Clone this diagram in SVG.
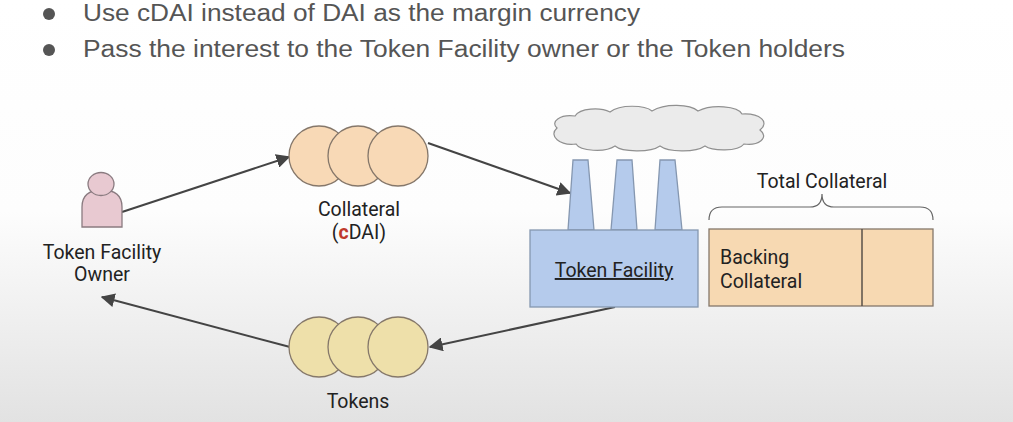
<svg xmlns="http://www.w3.org/2000/svg" width="1013" height="422" viewBox="0 0 1013 422">
<style>
text{font-family:Roboto,"Liberation Sans",Arial,sans-serif;fill:#222}
.bul{font-family:"Liberation Sans",Arial,sans-serif;font-size:23px;fill:#555}
.lbl{font-size:19.5px;text-anchor:middle}
.coin{fill:#f8d9b6;stroke:#85776a;stroke-width:1.3}
.tok{fill:#eee0aa;stroke:#85786a;stroke-width:1.3}
.fac{fill:#b5cbec;stroke:#8597b0;stroke-width:1.3}
.edge{stroke:#444;stroke-width:2;fill:none}
</style>
<defs>
<linearGradient id="bg" x1="0" y1="0" x2="0" y2="1">
<stop offset="0" stop-color="#ffffff"/>
<stop offset="0.5" stop-color="#fdfdfd"/>
<stop offset="1" stop-color="#e2e2e2"/>
</linearGradient>
<marker id="ah" viewBox="0 0 10 10" refX="9" refY="5" markerWidth="7" markerHeight="7" orient="auto">
<path d="M0,0 L10,5 L0,10 Z" fill="#444"/>
</marker>
</defs>
<rect width="1013" height="422" fill="url(#bg)"/>

<g id="bullets">
<circle cx="49" cy="14" r="6" fill="#555"/>
<text class="bul" x="83" y="21" textLength="557" lengthAdjust="spacingAndGlyphs">Use cDAI instead of DAI as the margin currency</text>
<circle cx="49" cy="50" r="6" fill="#555"/>
<text class="bul" x="83" y="57" textLength="762" lengthAdjust="spacingAndGlyphs">Pass the interest to the Token Facility owner or the Token holders</text>
</g>

<g id="connectors">
<line class="edge" x1="122" y1="212" x2="289" y2="157" marker-end="url(#ah)"/>
<line class="edge" x1="428" y1="143" x2="570" y2="193" marker-end="url(#ah)"/>
<line class="edge" x1="615" y1="307" x2="430" y2="347" marker-end="url(#ah)"/>
<line class="edge" x1="290" y1="347" x2="102" y2="297" marker-end="url(#ah)"/>
</g>

<g id="owner">
<path d="M82,227 L82,207 Q82,190 102,190 Q122,190 122,207 L122,227 Z" fill="#e8c9d1" stroke="#8a7b80" stroke-width="1.3"/>
<ellipse cx="101" cy="184" rx="13" ry="11.5" fill="#e8c9d1" stroke="#8a7b80" stroke-width="1.3"/>
<text class="lbl" x="102" y="259">Token Facility</text>
<text class="lbl" x="102" y="281">Owner</text>
</g>

<g id="collateral">
<circle class="coin" cx="319" cy="156" r="30"/>
<circle class="coin" cx="358" cy="156" r="30"/>
<circle class="coin" cx="398" cy="156" r="30"/>
<text class="lbl" x="359" y="216">Collateral</text>
<text class="lbl" x="359" y="239">(<tspan fill="#c0392b" font-weight="bold">c</tspan>DAI)</text>
</g>

<g id="token-facility">
<path d="M557,128 C550,122 560,114 575,116 C580,108 600,107 610,112 C620,104 645,105 652,111 C665,103 690,104 698,111 C712,104 738,106 742,114 C760,113 770,122 760,130 C770,138 758,146 744,144 C738,152 712,151 705,146 C695,153 668,152 660,146 C650,153 622,152 615,146 C605,153 580,151 576,144 C560,146 548,136 557,128 Z" fill="#ebebeb" stroke="#909090" stroke-width="1.2"/>
<path class="fac" d="M568,230 L573,160 L588,160 L594,230 Z"/>
<path class="fac" d="M611,230 L617,160 L632,160 L637,230 Z"/>
<path class="fac" d="M655,230 L660,160 L675,160 L682,230 Z"/>
<rect class="fac" x="530" y="230" width="168" height="77"/>
<text class="lbl" x="614" y="277" text-decoration="underline">Token Facility</text>
</g>

<g id="total-collateral">
<text class="lbl" x="822" y="188">Total Collateral</text>
<path d="M709,220 Q709,207 722,207 L810,207 Q822,207 822,194 Q822,207 834,207 L920,207 Q933,207 933,220" fill="none" stroke="#666" stroke-width="1.2"/>
<rect x="709" y="229" width="224" height="77" fill="#f7d9b2" stroke="#85776a" stroke-width="1.3"/>
<line x1="862" y1="229" x2="862" y2="306" stroke="#5a5048" stroke-width="1.5"/>
<text x="720" y="264" font-size="19.5">Backing</text>
<text x="720" y="288" font-size="19.5">Collateral</text>
</g>

<g id="tokens">
<circle class="tok" cx="319" cy="347" r="30"/>
<circle class="tok" cx="358" cy="347" r="30"/>
<circle class="tok" cx="398" cy="347" r="30"/>
<text class="lbl" x="358" y="408">Tokens</text>
</g>
</svg>
